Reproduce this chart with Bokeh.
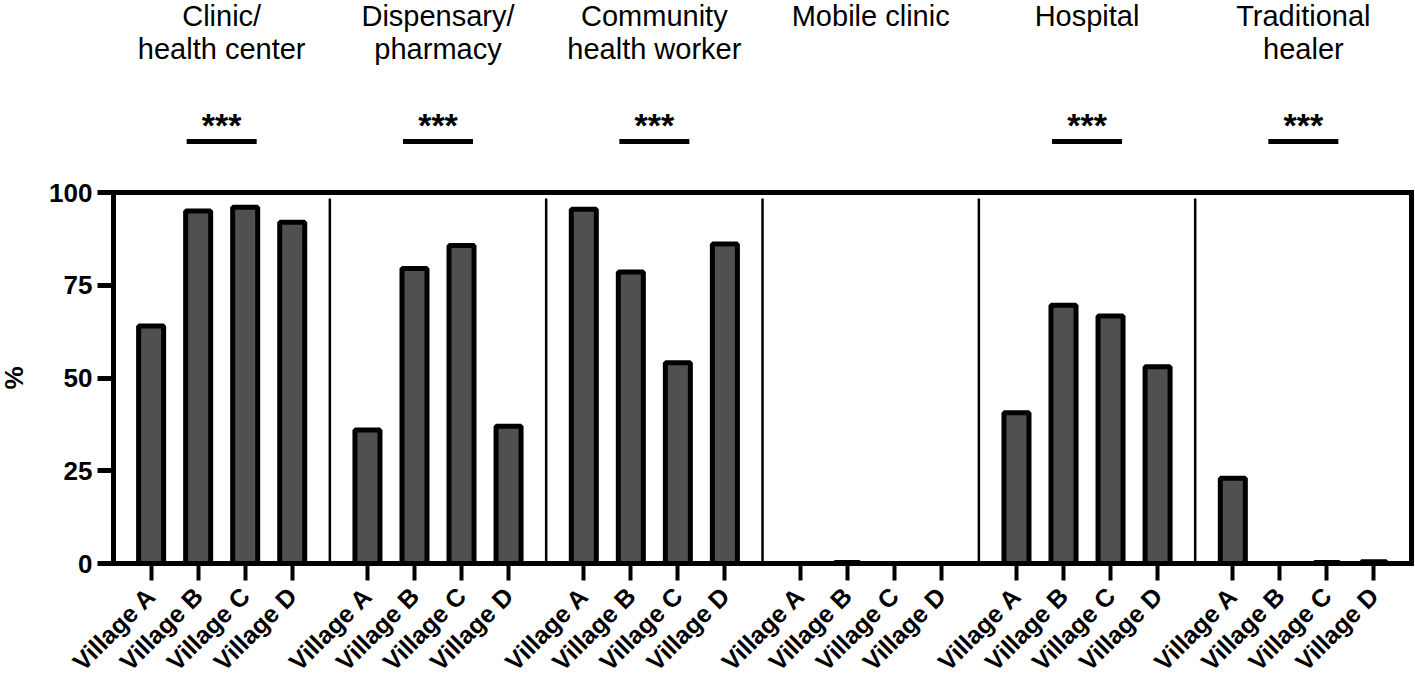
import math
from bokeh.plotting import figure
from bokeh.models import Range1d, FixedTicker, ColumnDataSource
from bokeh.core.properties import value
from bokeh.embed import file_html
from bokeh.resources import INLINE

# ---------------- data ----------------
title_line1 = ["Clinic/", "Dispensary/", "Community", "Mobile clinic", "Hospital", "Traditional"]
title_line2 = ["health center", "pharmacy", "health worker", "", "", "healer"]
villages = ["Village A", "Village B", "Village C", "Village D"]
clinic = [64.0, 95.0, 96.0, 92.0]
dispensary = [36.0, 79.5, 85.7, 37.0]
community_worker = [95.5, 78.6, 54.1, 86.1]
mobile_clinic = [0.0, 0.3, 0.0, 0.0]
hospital = [40.6, 69.6, 66.7, 53.0]
traditional_healer = [23.0, 0.0, 0.3, 0.5]
significant = [True, True, True, False, True, True]
sig_label = "***"
y_ticks = [0, 25, 50, 75, 100]
y_label = "%"

series = [clinic, dispensary, community_worker, mobile_clinic, hospital, traditional_healer]

# ---------------- layout ----------------
W, H = 1415, 684
GROUP_W = 23.0
BAR_STEP = 5.0
BAR_OFFSET = 4.0
BAR_W = 2.66
N_GROUPS = len(series)
X_END = N_GROUPS * GROUP_W

ORIGIN_PX_X = 113.0      # canvas x of data x = 0
PX_PER_X = 9.406
ORIGIN_PX_Y = 563.0      # canvas y of data y = 0
PX_PER_Y = 3.71


def x_at(px):
    return (px - ORIGIN_PX_X) / PX_PER_X


def y_at(py):
    return (ORIGIN_PX_Y - py) / PX_PER_Y


xs, tops, tick_pos, tick_labels = [], [], [], {}
for g, vals in enumerate(series):
    for j, v in enumerate(vals):
        x = g * GROUP_W + BAR_OFFSET + j * BAR_STEP
        xs.append(x)
        tops.append(v)
        tick_pos.append(x)
        tick_labels[x] = villages[j]

src = ColumnDataSource(dict(x=xs, top=tops))

p = figure(width=W, height=H, output_backend="svg", toolbar_location=None,
           x_range=Range1d(x_at(0), x_at(W)), y_range=Range1d(y_at(H), y_at(0)),
           min_border=0, min_border_left=0, min_border_right=0,
           min_border_top=0, min_border_bottom=0)
p.outline_line_color = None
p.grid.visible = False
p.background_fill_color = "white"

FONT = "Liberation Sans"

# bars
p.vbar(x="x", top="top", width=BAR_W, bottom=0, source=src,
       fill_color="#505050", line_color="black", line_width=5)

# frame: top and right borders
p.segment(x0=[0], y0=[100], x1=[X_END], y1=[100], line_color="black",
          line_width=5, line_cap="square")
p.segment(x0=[X_END], y0=[0], x1=[X_END], y1=[100], line_color="black",
          line_width=5, line_cap="square")

# group separators
sep_x = [g * GROUP_W for g in range(1, N_GROUPS)]
p.segment(x0=sep_x, y0=[0] * len(sep_x), x1=sep_x, y1=[y_at(198)] * len(sep_x),
          line_color="black", line_width=2.5)

# group titles
centers = [g * GROUP_W + GROUP_W / 2 for g in range(N_GROUPS)]
p.text(x=centers, y=[y_at(15)] * N_GROUPS, text=title_line1,
       text_font=value(FONT), text_font_size="29px", text_align="center",
       text_baseline="middle", text_color="black")
p.text(x=centers, y=[y_at(48)] * N_GROUPS, text=title_line2,
       text_font=value(FONT), text_font_size="29px", text_align="center",
       text_baseline="middle", text_color="black")

# significance markers
sig_c = [c for c, s in zip(centers, significant) if s]
half = 35.0 / PX_PER_X
p.segment(x0=[c - half for c in sig_c], y0=[y_at(141)] * len(sig_c),
          x1=[c + half for c in sig_c], y1=[y_at(141)] * len(sig_c),
          line_color="black", line_width=5)
p.text(x=sig_c, y=[y_at(124)] * len(sig_c), text=[sig_label] * len(sig_c),
       text_font=value(FONT), text_font_size="34px", text_font_style="bold",
       text_align="center", text_baseline="middle", text_color="black")

# y axis title
p.text(x=[x_at(13)], y=[50], text=[y_label], angle=math.pi / 2,
       text_font=value(FONT), text_font_size="26px", text_font_style="bold",
       text_align="center", text_baseline="middle", text_color="black")

# x axis
xa = p.xaxis[0]
xa.fixed_location = 0
xa.bounds = (0, X_END)
xa.ticker = FixedTicker(ticks=tick_pos)
xa.major_label_overrides = tick_labels
xa.major_label_orientation = math.pi / 4
xa.major_label_text_font = FONT
xa.major_label_text_font_style = "bold"
xa.major_label_text_font_size = "25px"
xa.major_label_text_color = "black"
xa.major_label_standoff = 11
xa.axis_line_width = 5
xa.axis_line_color = "black"
xa.axis_line_cap = "square"
xa.major_tick_line_width = 4
xa.major_tick_line_color = "black"
xa.major_tick_out = 17
xa.major_tick_in = 0
xa.minor_tick_line_color = None

# y axis
ya = p.yaxis[0]
ya.fixed_location = 0
ya.bounds = (0, 100)
ya.ticker = FixedTicker(ticks=y_ticks)
ya.major_label_text_font = FONT
ya.major_label_text_font_style = "bold"
ya.major_label_text_font_size = "26px"
ya.major_label_text_color = "black"
ya.major_label_standoff = 5
ya.axis_line_width = 5
ya.axis_line_color = "black"
ya.axis_line_cap = "square"
ya.major_tick_line_width = 5
ya.major_tick_line_color = "black"
ya.major_tick_out = 16
ya.major_tick_in = 0
ya.minor_tick_line_color = None

open("out.html", "w").write(file_html(p, INLINE))
